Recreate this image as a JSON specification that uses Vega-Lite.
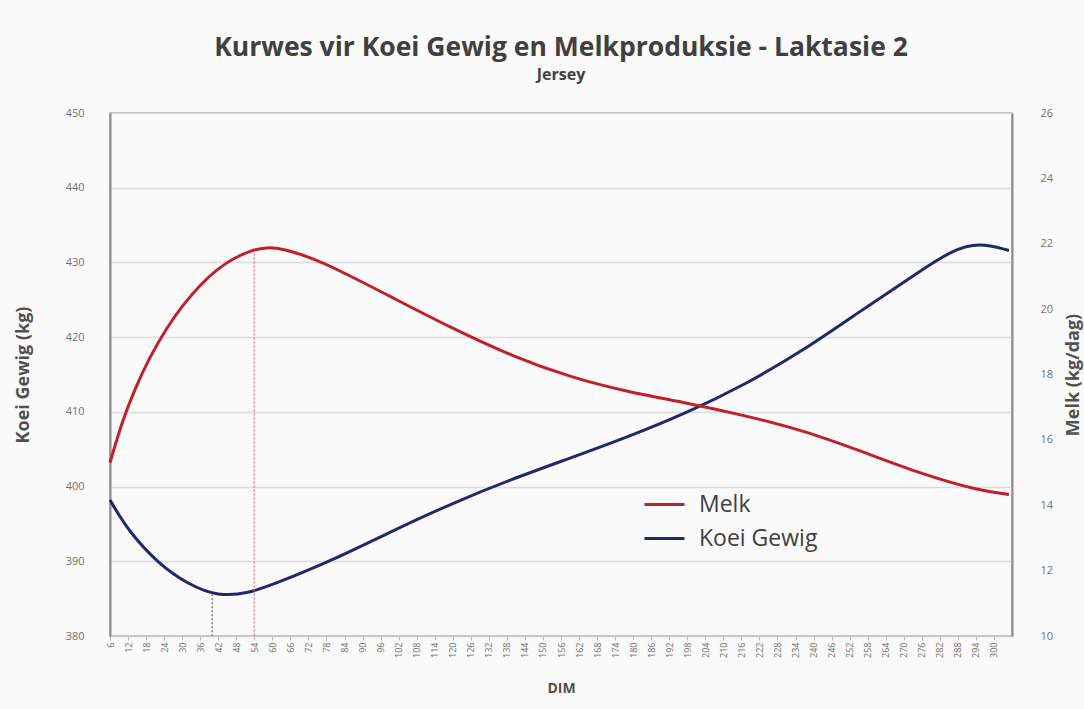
{
  "$schema": "https://vega.github.io/schema/vega-lite/v6.json",
  "width": 902,
  "height": 523,
  "autosize": {"type": "none"},
  "padding": {"left": 110, "top": 113, "right": 72, "bottom": 73},
  "background": "#fafafa",
  "config": {
    "font": "Open Sans",
    "view": {"stroke": "#a6a6a6", "strokeWidth": 1.5}
  },
  "title": {
    "text": "Kurwes vir Koei Gewig en Melkproduksie - Laktasie 2",
    "subtitle": "Jersey",
    "anchor": "middle",
    "font": "Open Sans",
    "fontSize": 26.5,
    "fontWeight": "bold",
    "color": "#404040",
    "subtitleFont": "Open Sans",
    "subtitleFontSize": 16,
    "subtitleFontWeight": "bold",
    "subtitleColor": "#404040",
    "subtitlePadding": 6,
    "offset": 24
  },
  "datasets": {
    "melk": [
      {"DIM": 6, "Melk": 15.3}, {"DIM": 10, "Melk": 16.55}, {"DIM": 14, "Melk": 17.5},
      {"DIM": 19, "Melk": 18.5}, {"DIM": 25, "Melk": 19.45}, {"DIM": 30, "Melk": 20.1},
      {"DIM": 36, "Melk": 20.75}, {"DIM": 42, "Melk": 21.25}, {"DIM": 47, "Melk": 21.55},
      {"DIM": 53, "Melk": 21.8}, {"DIM": 58, "Melk": 21.9}, {"DIM": 64, "Melk": 21.84},
      {"DIM": 72, "Melk": 21.6}, {"DIM": 81, "Melk": 21.25}, {"DIM": 100, "Melk": 20.35},
      {"DIM": 120, "Melk": 19.4}, {"DIM": 140, "Melk": 18.55}, {"DIM": 159, "Melk": 17.92},
      {"DIM": 178, "Melk": 17.47}, {"DIM": 198, "Melk": 17.13}, {"DIM": 217, "Melk": 16.75},
      {"DIM": 237, "Melk": 16.28}, {"DIM": 256, "Melk": 15.65}, {"DIM": 276, "Melk": 14.95},
      {"DIM": 295, "Melk": 14.45}, {"DIM": 305, "Melk": 14.33}
    ],
    "gewig": [
      {"DIM": 6, "Gewig": 398.2}, {"DIM": 12, "Gewig": 394.1}, {"DIM": 22, "Gewig": 389.7},
      {"DIM": 32, "Gewig": 386.9}, {"DIM": 42, "Gewig": 385.3}, {"DIM": 52, "Gewig": 385.7},
      {"DIM": 61, "Gewig": 387.0}, {"DIM": 81, "Gewig": 390.3}, {"DIM": 100, "Gewig": 394.1},
      {"DIM": 120, "Gewig": 397.8}, {"DIM": 139, "Gewig": 400.9}, {"DIM": 159, "Gewig": 403.8},
      {"DIM": 178, "Gewig": 406.6}, {"DIM": 198, "Gewig": 409.9}, {"DIM": 217, "Gewig": 413.6},
      {"DIM": 237, "Gewig": 418.3}, {"DIM": 256, "Gewig": 423.6}, {"DIM": 276, "Gewig": 429.0},
      {"DIM": 286, "Gewig": 431.6}, {"DIM": 295, "Gewig": 432.7}, {"DIM": 305, "Gewig": 431.6}
    ],
    "gewigMerk": [{"DIM": 40, "Gewig": 385.6}],
    "melkMerk": [{"DIM": 54, "Melk": 21.7}]
  },
  "encoding": {
    "x": {
      "field": "DIM",
      "type": "quantitative",
      "scale": {"domain": [6, 306], "nice": false, "zero": false},
      "axis": {
        "title": "DIM",
        "values": [6,12,18,24,30,36,42,48,54,60,66,72,78,84,90,96,102,108,114,120,126,132,138,144,150,156,162,168,174,180,186,192,198,204,210,216,222,228,234,240,246,252,258,264,270,276,282,288,294,300],
        "labelAngle": -90,
        "labelFontSize": 9,
        "labelColor": "#707070",
        "labelPadding": 2,
        "tickSize": 4,
        "tickColor": "#bbbbbb",
        "domainColor": "#cccccc",
        "grid": false,
        "titleFontSize": 14,
        "titleFontWeight": "bold",
        "titleColor": "#505050",
        "titlePadding": 24
      }
    }
  },
  "layer": [
    {
      "layer": [
        {
          "data": {"name": "gewig"},
          "mark": {"type": "line", "interpolate": "basis", "strokeWidth": 3},
          "encoding": {
            "y": {
              "field": "Gewig",
              "type": "quantitative",
              "title": "Koei Gewig (kg)",
              "scale": {"domain": [380, 450], "nice": false, "zero": false},
              "axis": {
                "orient": "left",
                "values": [380, 390, 400, 410, 420, 430, 440, 450],
                "ticks": false,
                "labelPadding": 26,
                "labelFontSize": 11,
                "labelColor": "#707070",
                "domainColor": "#8c8c8c",
                "domainWidth": 2,
                "grid": true,
                "gridColor": "#dcdcdc",
                "gridWidth": 1.5,
                "titleFontSize": 18,
                "titleFontWeight": "bold",
                "titleColor": "#505050",
                "titlePadding": 33
              }
            },
            "color": {
              "datum": "Koei Gewig",
              "type": "nominal",
              "scale": {"domain": ["Melk", "Koei Gewig"], "range": ["#c0202a", "#1f2a6b"]},
              "legend": {
                "title": null,
                "orient": "none",
                "legendX": 533,
                "legendY": 370,
                "symbolType": "stroke",
                "symbolSize": 1600,
                "symbolStrokeWidth": 3,
                "labelFontSize": 23,
                "labelColor": "#404040",
                "labelOffset": 13,
                "rowPadding": 0
              }
            }
          }
        },
        {
          "data": {"name": "gewigMerk"},
          "mark": {"type": "rule", "strokeDash": [2, 2], "strokeWidth": 1.5, "color": "#808080"},
          "encoding": {
            "y": {"field": "Gewig", "type": "quantitative", "title": "Koei Gewig (kg)", "scale": {"domain": [380, 450], "nice": false, "zero": false}},
            "y2": {"datum": 380}
          }
        }
      ]
    },
    {
      "layer": [
        {
          "data": {"name": "melk"},
          "mark": {"type": "line", "interpolate": "basis", "strokeWidth": 3},
          "encoding": {
            "y": {
              "field": "Melk",
              "type": "quantitative",
              "title": "Melk (kg/dag)",
              "scale": {"domain": [10, 26], "nice": false, "zero": false},
              "axis": {
                "orient": "right",
                "values": [10, 12, 14, 16, 18, 20, 22, 24, 26],
                "ticks": false,
                "labelPadding": 28,
                "labelFontSize": 11,
                "labelColor": "#707070",
                "domainColor": "#8c8c8c",
                "domainWidth": 2,
                "grid": false,
                "titleFontSize": 18,
                "titleFontWeight": "bold",
                "titleColor": "#505050",
                "titleAngle": 270,
                "titlePadding": 30
              }
            },
            "color": {"datum": "Melk", "type": "nominal"}
          }
        },
        {
          "data": {"name": "melkMerk"},
          "mark": {"type": "rule", "strokeDash": [2, 2], "strokeWidth": 1.2, "color": "#e06a78"},
          "encoding": {
            "y": {"field": "Melk", "type": "quantitative", "title": "Melk (kg/dag)", "scale": {"domain": [10, 26], "nice": false, "zero": false}},
            "y2": {"datum": 10}
          }
        }
      ]
    }
  ],
  "resolve": {"scale": {"y": "independent"}}
}
